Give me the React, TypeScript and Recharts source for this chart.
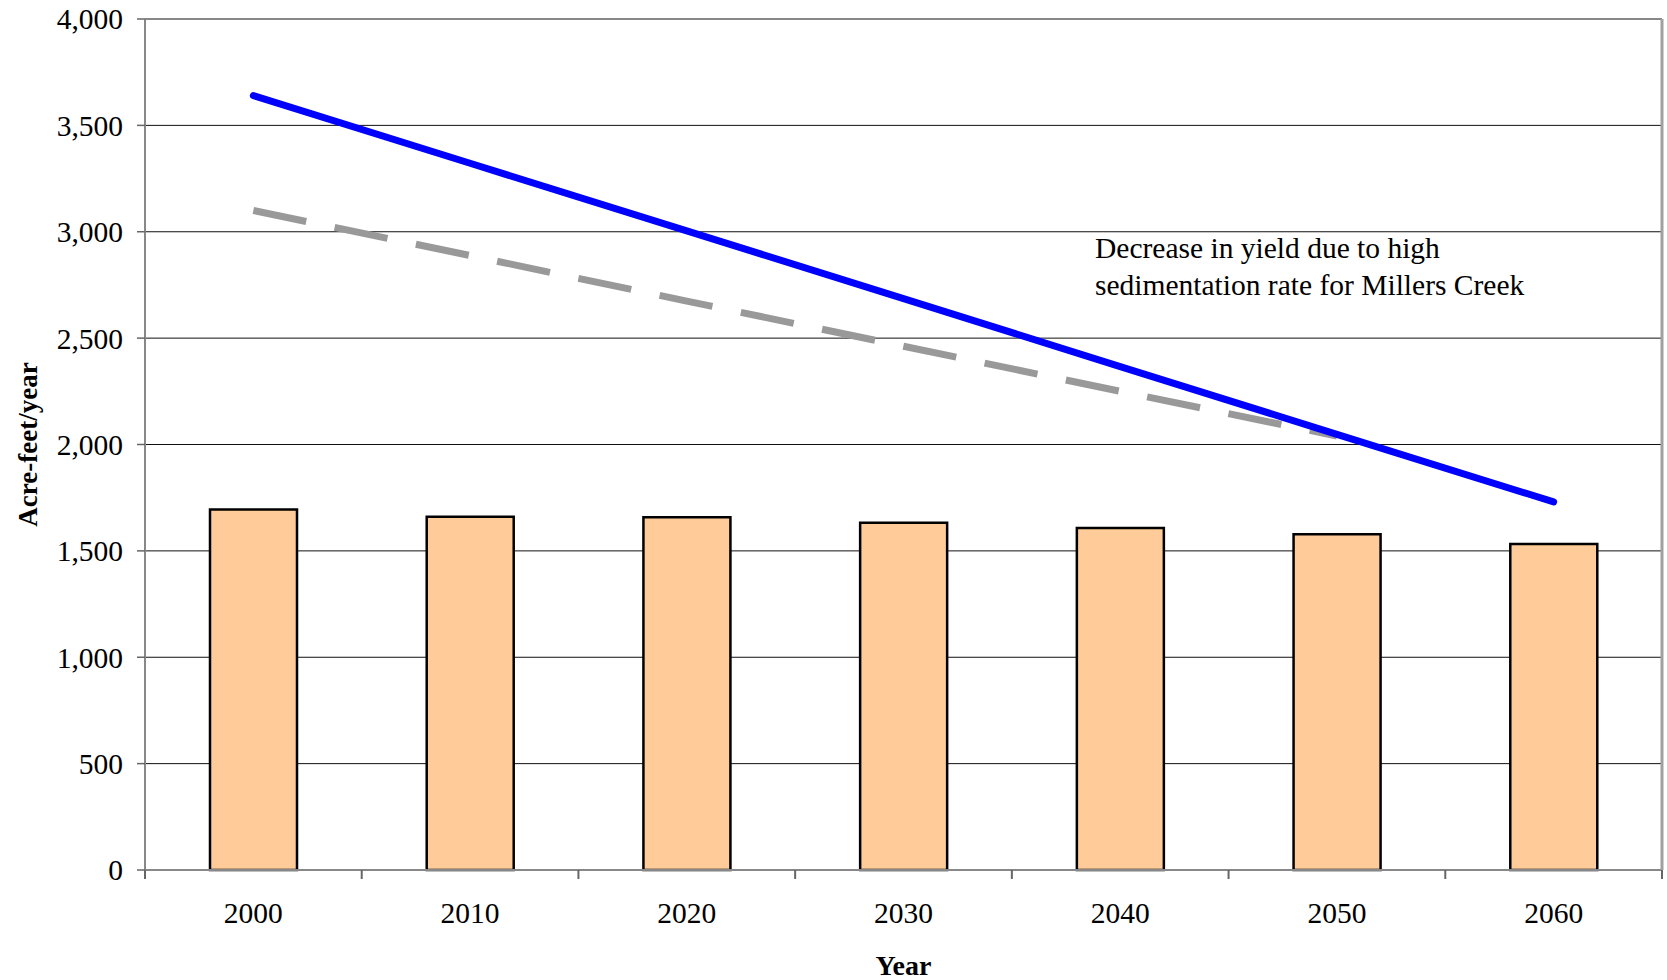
import React from 'react';
import { ComposedChart, Bar, Line, XAxis, YAxis, CartesianGrid, Label } from 'recharts';

// values
const years = ['2000', '2010', '2020', '2030', '2040', '2050', '2060'];
const barValues = [1695, 1660, 1658, 1632, 1607, 1578, 1532];
const blueValues = [3640, 3322, 3004, 2686, 2366, 2048, 1730];
const grayValues: (number | null)[] = [3100, 2888, 2674, 2462, 2250, 2040, null];
const yTicks = [0, 500, 1000, 1500, 2000, 2500, 3000, 3500, 4000];

const chartData = years.map((year, i) => ({
    year,
    yield: barValues[i],
    upper: blueValues[i],
    lower: grayValues[i],
}));

const FONT = '"Liberation Serif", "Times New Roman", serif';
const X_TICK_MARGIN = 32;

const YTitle = (props: any) => {
    const { viewBox } = props;
    const cx = 28;
    const cy = viewBox.y + viewBox.height / 2;
    return (
        <text x={cx} y={cy} transform={`rotate(-90 ${cx} ${cy})`} textAnchor="middle"
            dominantBaseline="central" fontWeight="bold" fontSize={27} fontFamily={FONT} fill="#000">
            Acre-feet/year
        </text>
    );
};

const XTitle = (props: any) => {
    const { viewBox } = props;
    const cx = viewBox.x + viewBox.width / 2;
    return (
        <text x={cx} y={965} textAnchor="middle" dominantBaseline="central"
            fontWeight="bold" fontSize={28} fontFamily={FONT} fill="#000">
            Year
        </text>
    );
};

// year label plus tick marks on the category boundaries (excel style)
const YearTick = (props: any) => {
    const { x, y, payload, index, visibleTicksCount } = props;
    const half = payload && payload.offset ? payload.offset : 0;
    const axisY = y - X_TICK_MARGIN;
    return (
        <g>
            <line x1={x - half} x2={x - half} y1={axisY} y2={axisY + 9} stroke="#666" strokeWidth={2} />
            {index === visibleTicksCount - 1 && (
                <line x1={x + half} x2={x + half} y1={axisY} y2={axisY + 9} stroke="#666" strokeWidth={2} />
            )}
            <text x={x} y={y} dy="0.71em" textAnchor="middle" fontSize={29.5} fontFamily={FONT} fill="#000">
                {payload.value}
            </text>
        </g>
    );
};

const App: React.FC = () => {
    return (
        <div style={{ position: 'absolute', left: 0, top: 0, width: 1667, height: 980, background: '#fff', fontFamily: FONT }}>
            <ComposedChart
                width={1667}
                height={980}
                data={chartData}
                margin={{ top: 19, right: 0, left: 0, bottom: 0 }}
            >
                <CartesianGrid horizontal vertical={false} stroke="#111" strokeWidth={1} />
                <XAxis
                    dataKey="year"
                    interval={0}
                    tickLine={false}
                    tickSize={0}
                    tickMargin={X_TICK_MARGIN}
                    axisLine={{ stroke: '#888', strokeWidth: 2 }}
                    tick={<YearTick />}
                    height={110}
                >
                    <Label content={<XTitle />} />
                </XAxis>
                <YAxis
                    domain={[0, 4000]}
                    ticks={yTicks}
                    interval={0}
                    width={145}
                    tickSize={8}
                    tickMargin={14}
                    tickLine={{ stroke: '#666', strokeWidth: 1.5 }}
                    axisLine={{ stroke: '#888', strokeWidth: 2 }}
                    tick={{ fill: '#000', fontSize: 29.5, fontFamily: FONT }}
                    tickFormatter={(v: number) => v.toLocaleString('en-US')}
                >
                    <Label content={<YTitle />} />
                </YAxis>
                <YAxis
                    yAxisId="border"
                    orientation="right"
                    domain={[0, 4000]}
                    width={5}
                    tick={false}
                    tickLine={false}
                    axisLine={{ stroke: '#a0a0a0', strokeWidth: 3 }}
                />
                <Bar
                    dataKey="yield"
                    fill="#FFCC99"
                    stroke="#000"
                    strokeWidth={2.5}
                    barSize={87}
                    isAnimationActive={false}
                />
                <Line
                    dataKey="lower"
                    stroke="#999999"
                    strokeWidth={7}
                    strokeDasharray="54 29"
                    dot={false}
                    activeDot={false}
                    isAnimationActive={false}
                />
                <Line
                    dataKey="upper"
                    stroke="#0000FF"
                    strokeWidth={7}
                    strokeLinecap="round"
                    dot={false}
                    activeDot={false}
                    isAnimationActive={false}
                />
            </ComposedChart>
            <div style={{ position: 'absolute', left: 1095, top: 230, fontSize: 29.5, lineHeight: '37px', color: '#000', whiteSpace: 'nowrap' }}>
                Decrease in yield due to high<br />
                sedimentation rate for Millers Creek
            </div>
        </div>
    );
};

export default App;
